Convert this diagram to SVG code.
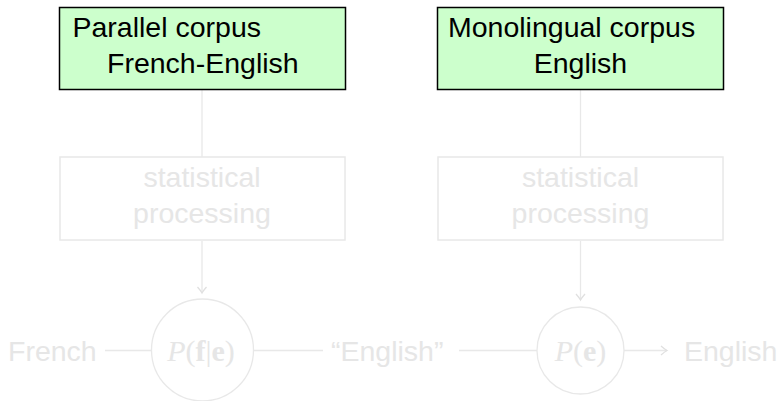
<svg xmlns="http://www.w3.org/2000/svg" width="782" height="401" viewBox="0 0 782 401">
<defs>
<style>
.corpus{fill:#ccffcc;stroke:#000;stroke-width:1.5}
.dim{fill:#fff;stroke:#e8e8e8;stroke-width:1.5}
.t{font-family:"Liberation Sans",Arial,sans-serif;font-size:28.5px}
.blk{fill:#000}
.gry{fill:#e6e6e6}
.m{font-family:"Liberation Serif","Times New Roman",serif;font-size:30px;fill:#e6e6e6}
.ln{stroke:#e8e8e8;stroke-width:1.3;fill:none}
</style>
<marker id="ah" markerUnits="userSpaceOnUse" markerWidth="14" markerHeight="14" refX="0" refY="0" viewBox="-8 -7 10 14" orient="auto" overflow="visible">
<path d="M -6,-4.5 Q -2,-1 0,0 Q -2,1 -6,4.5" fill="none" stroke="#e0e0e0" stroke-width="1.3"/>
</marker>
</defs>
<g id="connectors">
<line class="ln" x1="202" y1="89" x2="202" y2="157"/>
<line class="ln" x1="580.5" y1="89" x2="580.5" y2="157"/>
<line class="ln" x1="202" y1="241" x2="202" y2="293" marker-end="url(#ah)"/>
<line class="ln" x1="580.5" y1="241" x2="580.5" y2="300" marker-end="url(#ah)"/>
<line class="ln" x1="105" y1="350.5" x2="151" y2="350.5"/>
<line class="ln" x1="254" y1="350.5" x2="323" y2="350.5"/>
<line class="ln" x1="459" y1="350.5" x2="537" y2="350.5"/>
<line class="ln" x1="624" y1="350.5" x2="667" y2="350.5" marker-end="url(#ah)"/>
</g>
<g id="parallel">
<rect class="corpus" x="59.5" y="7.5" width="286" height="82"/>
<text class="t blk" x="72.5" y="37">Parallel corpus</text>
<text class="t blk" x="107" y="73">French-English</text>
</g>
<g id="mono">
<rect class="corpus" x="437.5" y="7.5" width="286" height="82"/>
<text class="t blk" x="448" y="37">Monolingual corpus</text>
<text class="t blk" x="580.5" y="73" text-anchor="middle">English</text>
</g>
<g id="stat1">
<rect class="dim" x="60" y="157" width="285" height="83"/>
<text class="t gry" x="202" y="187" text-anchor="middle">statistical</text>
<text class="t gry" x="202" y="223" text-anchor="middle">processing</text>
</g>
<g id="stat2">
<rect class="dim" x="438" y="157" width="285" height="83"/>
<text class="t gry" x="580.5" y="187" text-anchor="middle">statistical</text>
<text class="t gry" x="580.5" y="223" text-anchor="middle">processing</text>
</g>
<g id="tm">
<circle cx="202.5" cy="350" r="51" fill="#fff" stroke="#e8e8e8" stroke-width="1.3"/>
<text class="m" x="201" y="361" text-anchor="middle"><tspan font-style="italic">P</tspan>(<tspan font-weight="bold">f</tspan>|<tspan font-weight="bold">e</tspan>)</text>
</g>
<g id="lm">
<circle cx="580.5" cy="350.5" r="43.5" fill="#fff" stroke="#e8e8e8" stroke-width="1.3"/>
<text class="m" x="580.5" y="361" text-anchor="middle"><tspan font-style="italic">P</tspan>(<tspan font-weight="bold">e</tspan>)</text>
</g>
<g id="french"><text class="t gry" x="8" y="361">French</text></g>
<g id="eng-q"><text class="t gry" x="331" y="361">“English”</text></g>
<g id="eng-out"><text class="t gry" x="684" y="361">English</text></g>
</svg>
